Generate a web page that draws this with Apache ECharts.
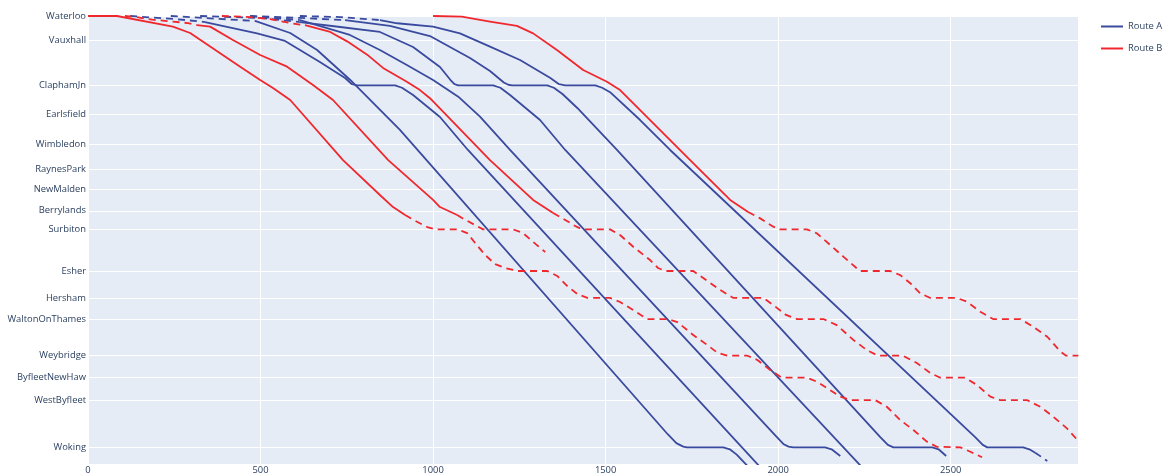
<!DOCTYPE html>
<html>
<head>
<meta charset="utf-8">
<script src="https://cdn.jsdelivr.net/npm/echarts@6/dist/echarts.min.js"></script>
<style>
  html, body { margin: 0; padding: 0; background: #fff; }
  #chart { width: 1169px; height: 475px; }
</style>
</head>
<body>
<div id="chart"></div>
<script>
// Stations along the line and their distance from Waterloo (miles)
const stationNames = ['Waterloo', 'Vauxhall', 'ClaphamJn', 'Earlsfield', 'Wimbledon', 'RaynesPark',
  'NewMalden', 'Berrylands', 'Surbiton', 'Esher', 'Hersham', 'WaltonOnThames', 'Weybridge',
  'ByfleetNewHaw', 'WestByfleet', 'Woking'];
const stationMiles = [0, 1.35, 3.91, 5.57, 7.22, 8.63, 9.78, 10.99, 12.04, 14.39, 15.91, 17.10,
  19.17, 20.41, 21.67, 24.34];

// Time axis (seconds)
const timeTicks = [0, 500, 1000, 1500, 2000, 2500];

// Train paths: [time (s), distance (miles)]
// Route B trains
const b1Run = [[0,0],[84,0],[246,0.6],[296,0.96],[441,2.86],[499,3.61],[536,4.06],[586,4.74],[739,8.13],[846,10.1],[884,10.78],[919,11.23]];
const b1Onward = [[919,11.23],[939,11.46],[983,11.91],[1006,12.04],[1070,12.04],[1099,12.25],[1122,12.81],[1151,13.49],[1180,14.0],[1209,14.22],[1244,14.39],[1331,14.39],[1360,14.67],[1389,15.24],[1418,15.69],[1447,15.91],[1513,15.91],[1542,16.14],[1580,16.59],[1621,17.1],[1679,17.1],[1708,17.27],[1754,18.0],[1795,18.57],[1824,19.0],[1853,19.17],[1911,19.17],[1940,19.41],[1977,19.98],[2011,20.41],[2084,20.41],[2113,20.64],[2151,21.11],[2180,21.48],[2209,21.67],[2281,21.67],[2315,22.05],[2354,22.8],[2392,23.36],[2431,24.02],[2460,24.31],[2528,24.34],[2557,24.59],[2591,24.9]];

const b2Approach = [[107,0],[140,0.06],[186,0.21],[223,0.27],[290,0.4],[316,0.51]];
const b2Run = [[316,0.51],[354,0.6],[420,1.35],[499,2.2],[577,2.86],[652,3.89],[710,4.74],[870,8.13],[1000,10.38],[1020,10.78],[1070,11.23]];
const b2Onward = [[1070,11.23],[1084,11.4],[1122,11.8],[1145,12.04],[1232,12.04],[1261,12.25],[1290,12.75],[1325,13.32]];

const b3Approach = [[388,0],[470,0.06],[528,0.17],[586,0.4],[629,0.52]];
const b3Run = [[629,0.52],[702,0.9],[751,1.43],[809,2.18],[855,2.93],[924,3.71],[962,4.18],[991,4.64],[1165,8.13],[1290,10.38],[1348,11.12]];
const b3Onward = [[1348,11.12],[1383,11.51],[1412,11.85],[1432,12.04],[1513,12.04],[1542,12.36],[1580,13.02],[1629,13.77],[1652,14.22],[1673,14.39],[1754,14.39],[1783,14.79],[1832,15.46],[1870,15.91],[1957,15.91],[1986,16.31],[2023,16.87],[2055,17.1],[2131,17.1],[2170,17.44],[2218,18.28],[2257,18.85],[2290,19.17],[2362,19.17],[2402,19.58],[2441,20.15],[2470,20.41],[2542,20.41],[2576,20.82],[2615,21.48],[2643,21.67],[2721,21.67],[2760,22.05],[2797,22.61],[2837,23.27],[2870,23.98]];

const b4Run = [[1000,0],[1083,0.04],[1165,0.32],[1243,0.56],[1290,0.98],[1359,1.92],[1435,3.05],[1504,3.71],[1542,4.18],[1745,8.13],[1861,10.38],[1913,11.06]];
const b4Onward = [[1913,11.06],[1948,11.42],[1986,11.89],[2006,12.04],[2083,12.04],[2112,12.26],[2151,12.92],[2189,13.58],[2228,14.24],[2238,14.39],[2325,14.39],[2354,14.62],[2383,15.08],[2412,15.65],[2441,15.91],[2518,15.91],[2547,16.12],[2586,16.69],[2623,17.1],[2702,17.1],[2739,17.53],[2780,18.1],[2818,18.94],[2835,19.17],[2870,19.17]];

// Route A trains
const a1Approach = [[240,0],[370,0.15],[484,0.28]];
const a1Run = [[484,0.28],[586,0.96],[664,1.92],[760,3.61],[809,4.57],[904,6.43],[1680,23.6],[1705,24.1],[1725,24.3],[1736,24.34],[1841,24.34],[1860,24.45],[1880,24.75],[1939,25.96]];

const a2Approach = [[122,0],[252,0.17],[339,0.34]];
const a2Run = [[339,0.34],[490,0.98],[571,1.41],[672,2.6],[745,3.5],[765,3.85],[780,3.91],[890,3.91],[910,4.05],[942,4.46],[1020,5.7],[1101,7.56],[1977,26.07]];

const a3Approach = [[470,0],[614,0.23]];
const a3Run = [[614,0.23],[759,1.07],[846,1.92],[924,2.77],[1000,3.61],[1073,4.55],[1136,5.68],[1223,7.56],[1991,23.65],[2015,24.15],[2030,24.3],[2044,24.34],[2136,24.34],[2155,24.45],[2180,24.83]];

const a4Approach = [[325,0],[499,0.11],[614,0.34]];
const a4Run = [[614,0.34],[731,0.62],[846,0.9],[942,1.75],[1020,2.88],[1050,3.6],[1062,3.85],[1073,3.91],[1174,3.91],[1195,4.05],[1223,4.46],[1310,5.87],[1383,7.56],[2267,25.96]];

const a5Approach = [[470,0],[614,0.11],[745,0.23]];
const a5Run = [[745,0.23],[875,0.56],[991,1.13],[1107,2.37],[1165,3.1],[1205,3.75],[1218,3.88],[1229,3.91],[1331,3.91],[1350,4.05],[1375,4.4],[1418,5.19],[1533,7.56],[2296,23.76],[2318,24.2],[2334,24.34],[2447,24.34],[2465,24.45],[2487,24.83]];

const a6Approach = [[614,0],[731,0.06],[846,0.23]];
const a6Run = [[846,0.23],[896,0.41],[1000,0.6],[1078,0.98],[1165,1.73],[1252,2.48],[1340,3.5],[1365,3.85],[1383,3.91],[1470,3.91],[1490,4.05],[1513,4.3],[1600,5.87],[1687,7.56],[2571,23.76],[2593,24.2],[2606,24.34],[2710,24.34],[2728,24.45],[2745,24.64]];
const a6Onward = [[2745,24.64],[2780,25.11]];

const ROUTE_A = '#3a4a9e';
const ROUTE_B = '#f0282d';

// [route, line type, path]
const segments = [
  ['Route A', 'dashed', a1Approach], ['Route A', 'solid', a1Run],
  ['Route A', 'dashed', a2Approach], ['Route A', 'solid', a2Run],
  ['Route A', 'dashed', a3Approach], ['Route A', 'solid', a3Run],
  ['Route A', 'dashed', a4Approach], ['Route A', 'solid', a4Run],
  ['Route A', 'dashed', a5Approach], ['Route A', 'solid', a5Run],
  ['Route A', 'dashed', a6Approach], ['Route A', 'solid', a6Run], ['Route A', 'dashed', a6Onward],
  ['Route B', 'solid', b1Run], ['Route B', 'dashed', b1Onward],
  ['Route B', 'dashed', b2Approach], ['Route B', 'solid', b2Run], ['Route B', 'dashed', b2Onward],
  ['Route B', 'dashed', b3Approach], ['Route B', 'solid', b3Run], ['Route B', 'dashed', b3Onward],
  ['Route B', 'solid', b4Run], ['Route B', 'dashed', b4Onward]
];

const series = segments.map(([name, type, path]) => ({
  name: name,
  type: 'line',
  data: path,
  showSymbol: false,
  symbol: 'none',
  smooth: false,
  clip: true,
  color: name === 'Route A' ? ROUTE_A : ROUTE_B,
  lineStyle: {
    width: 1.8,
    join: 'round',
    color: name === 'Route A' ? ROUTE_A : ROUTE_B,
    type: type === 'dashed' ? [7, 5] : 'solid'
  },
  emphasis: { disabled: true },
  animation: false
}));

function stationLabel(v) {
  for (let i = 0; i < stationMiles.length; i++) {
    if (Math.abs(stationMiles[i] - v) < 1e-6) return stationNames[i];
  }
  return '';
}

const textColor = '#2a3f5f';
const fontSize = 9.4;
const chart = echarts.init(document.getElementById('chart'), null, { renderer: 'canvas' });
chart.setOption({
  backgroundColor: '#ffffff',
  animation: false,
  grid: { left: 88, right: 91, top: 16, bottom: 11, show: true, backgroundColor: '#E5ECF6', borderWidth: 0, outerBoundsMode: 'none', containLabel: false },
  legend: {
    orient: 'vertical',
    left: 1101,
    top: 22,
    padding: 0,
    itemWidth: 22,
    itemHeight: 2,
    itemGap: 13,
    icon: 'rect',
    data: ['Route A', 'Route B'],
    textStyle: { color: textColor, fontSize: fontSize, fontFamily: 'Open Sans', overflow: 'none' }
  },
  xAxis: {
    type: 'value',
    min: 0,
    max: 2869,
    interval: 500,
    axisLine: { show: false },
    axisTick: { show: false },
    splitLine: { show: true, lineStyle: { color: '#ffffff', width: 1 } },
    axisLabel: {
      color: textColor, fontSize: fontSize, fontFamily: 'Open Sans', margin: 2,
      customValues: timeTicks,
      formatter: v => String(v)
    }
  },
  yAxis: {
    type: 'value',
    inverse: true,
    min: 0,
    max: 25.28,
    axisLine: { show: false },
    axisTick: { show: false, customValues: stationMiles },
    splitLine: { show: true, lineStyle: { color: '#ffffff', width: 1 } },
    axisLabel: {
      color: textColor, fontSize: fontSize, fontFamily: 'Open Sans', margin: 2,
      customValues: stationMiles,
      formatter: stationLabel
    }
  },
  series: series
});
</script>
</body>
</html>
